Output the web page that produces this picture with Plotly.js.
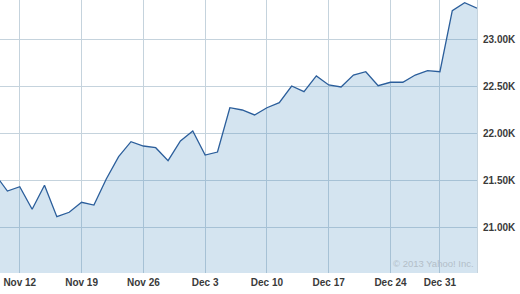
<!DOCTYPE html>
<html>
<head>
<meta charset="utf-8">
<script src="https://cdn.plot.ly/plotly-3.0.1.min.js"></script>
<style>html,body{margin:0;padding:0;background:#fff;}#chart{width:520px;height:294px;}</style>
</head>
<body>
<div id="chart"></div>
<script>
const dates = [
  "Nov 8","Nov 9",
  "Nov 12","Nov 13","Nov 14","Nov 15","Nov 16",
  "Nov 19","Nov 20","Nov 21","Nov 22","Nov 23",
  "Nov 26","Nov 27","Nov 28","Nov 29","Nov 30",
  "Dec 3","Dec 4","Dec 5","Dec 6","Dec 7",
  "Dec 10","Dec 11","Dec 12","Dec 13","Dec 14",
  "Dec 17","Dec 18","Dec 19","Dec 20","Dec 21",
  "Dec 24","Dec 26","Dec 27","Dec 28",
  "Dec 31","Jan 2","Jan 3","Jan 4"
];
const closeValues = [
  21564, 21386,
  21432, 21192, 21447, 21113, 21160,
  21266, 21237, 21514, 21751, 21911,
  21865, 21847, 21709, 21918, 22025,
  21769, 21801, 22272, 22248, 22195,
  22272, 22326, 22503, 22443, 22610,
  22514, 22493, 22620, 22655, 22506,
  22543, 22543, 22620, 22666,
  22655, 23304, 23389, 23330
];
const xTickVals = ["Nov 12","Nov 19","Nov 26","Dec 3","Dec 10","Dec 17","Dec 24","Dec 31"];
const xTickText = ["Nov 12","Nov 19","Nov 26","Dec 3","Dec 10","Dec 17","Dec 24","Dec 31"];
const yTickVals = [21000, 21500, 22000, 22500, 23000];
const yTickText = ["21.00K","21.50K","22.00K","22.50K","23.00K"];

const trace = {
  x: dates,
  y: closeValues,
  type: 'scatter',
  mode: 'lines',
  line: {color: '#2b5e9b', width: 1.3},
  fill: 'tozeroy',
  fillcolor: 'rgba(60,130,185,0.22)',
  hoverinfo: 'none'
};

const tickFont = {family: 'Liberation Sans, Arial, sans-serif', size: 10, color: '#3a3a3a', weight: 'bold'};

const layout = {
  width: 520, height: 294,
  margin: {l: 0, r: 43, t: 0, b: 21},
  paper_bgcolor: '#ffffff',
  plot_bgcolor: '#ffffff',
  showlegend: false,
  xaxis: {
    type: 'category',
    range: [0.40, 39.0],
    tickmode: 'array',
    tickvals: xTickVals,
    ticktext: xTickText,
    showgrid: true,
    gridcolor: '#c5d3dd',
    gridwidth: 1,
    showline: false,
    zeroline: false,
    ticks: '',
    ticklabelstandoff: 2,
    tickfont: tickFont
  },
  yaxis: {
    side: 'right',
    range: [20514, 23418],
    tickmode: 'array',
    tickvals: yTickVals,
    ticktext: yTickText,
    showgrid: true,
    gridcolor: '#c5d3dd',
    gridwidth: 1,
    showline: true,
    linecolor: '#c5d3dd',
    linewidth: 1,
    zeroline: false,
    ticks: '',
    ticklabelstandoff: 3,
    tickfont: tickFont
  },
  annotations: [{
    xref: 'paper', yref: 'paper', x: 1, y: 0,
    xanchor: 'right', yanchor: 'bottom',
    xshift: -1, yshift: 2,
    showarrow: false,
    text: '© 2013 Yahoo! Inc.',
    font: {family: 'Liberation Sans, Arial, sans-serif', size: 9.5, color: '#b3bec8'}
  }]
};

Plotly.newPlot('chart', [trace], layout, {staticPlot: true, displayModeBar: false});
</script>
</body>
</html>
